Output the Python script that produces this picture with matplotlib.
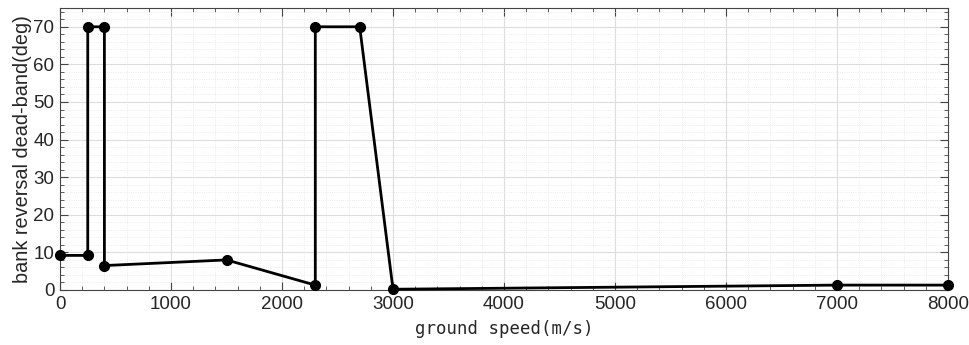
import matplotlib
matplotlib.use("Agg")
import matplotlib.pyplot as plt
from matplotlib.ticker import MultipleLocator

plt.rcParams['font.family'] = ['Liberation Sans', 'DejaVu Sans']

speed = [0, 250, 250, 400, 400, 1500, 2300, 2300, 2700, 3000, 7000, 8000]
deadband = [9.2, 9.2, 70, 70, 6.5, 8.0, 1.3, 70, 70, 0.2, 1.3, 1.3]

fig = plt.figure(figsize=(9.69, 3.45), dpi=100)
ax = fig.add_axes([60/969, 1-290/345, 888/969, 282/345])

ax.plot(speed, deadband, color='black', lw=2, marker='o', ms=7, zorder=3, clip_on=False)

ax.set_xlim(0, 8000)
ax.set_ylim(0, 75)
ax.xaxis.set_major_locator(MultipleLocator(1000))
ax.xaxis.set_minor_locator(MultipleLocator(200))
ax.yaxis.set_major_locator(MultipleLocator(10))
ax.yaxis.set_minor_locator(MultipleLocator(2))

ax.grid(which='major', color='#dddddd', lw=0.8)
ax.grid(which='minor', color='#e6e6e6', lw=0.6, ls=':')
ax.set_axisbelow(True)

ax.tick_params(which='both', direction='in', top=True, right=True, color='#444444')
ax.tick_params(which='major', length=6, labelsize=13.5, labelcolor='#262626', pad=4)
ax.tick_params(which='minor', length=3)
for s in ax.spines.values():
    s.set_color('#444444')
    s.set_linewidth(0.8)

ax.set_xlabel('ground speed(m/s)', fontsize=12.5, family=['DejaVu Sans Mono'], color='#262626', labelpad=5)
ax.set_ylabel('bank reversal dead-band(deg)', fontsize=14.3, color='#262626', labelpad=1)

fig.savefig('out.png', dpi=100)
